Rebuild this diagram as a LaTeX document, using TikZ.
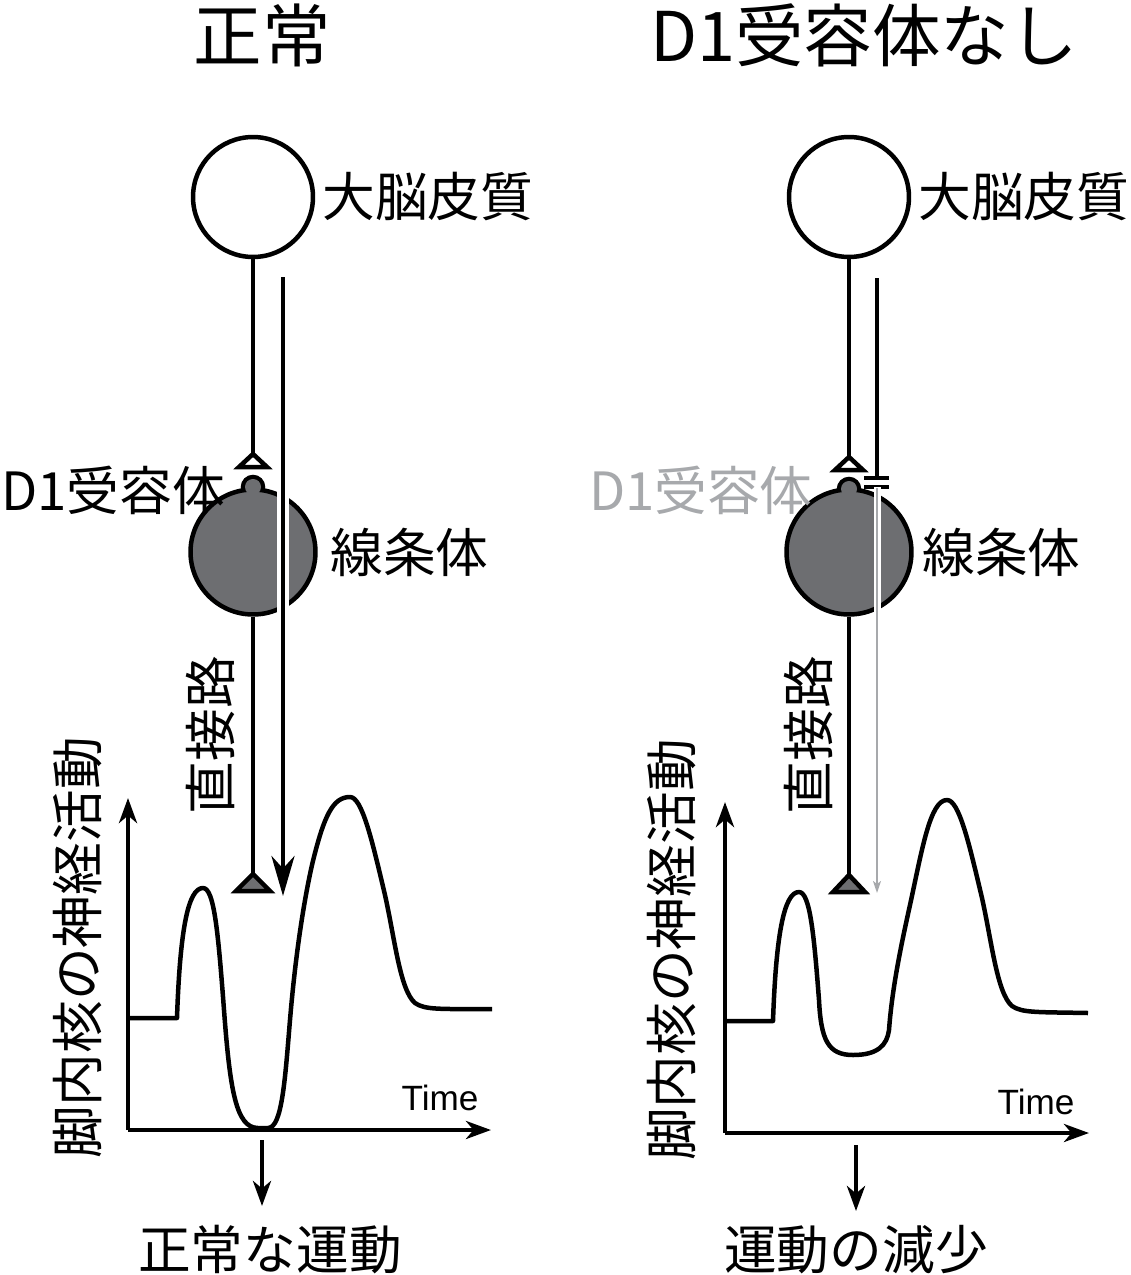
\documentclass[tikz,border=0pt]{standalone}
\usepackage{fontspec}
\setmainfont{Noto Sans CJK JP}
\newfontfamily\latinfont{Liberation Sans}
\usetikzlibrary{arrows.meta, positioning, calc}
\definecolor{stri}{HTML}{6D6E71}
\definecolor{faded}{HTML}{A7A9AC}

\begin{document}
\begin{tikzpicture}[
  x=0.02cm, y=-0.02cm,
  thickline/.style={line width=0.09cm},
  cortex/.style={draw, circle, thickline, fill=white, minimum size=2.4cm, inner sep=0pt},
  striatum/.style={draw, circle, thickline, fill=stri, minimum size=2.5cm, inner sep=0pt},
  label/.style={font=\fontsize{30}{36}\selectfont, inner sep=0pt},
  title/.style={font=\fontsize{39}{46}\selectfont, inner sep=0pt},
  timelabel/.style={font=\latinfont\fontsize{20}{24}\selectfont, inner sep=0pt},
  bigarrow/.style={thickline, -{Stealth[length=0.8cm, width=0.46cm, inset=0.25cm]}},
  axisarrow/.style={thickline, -{Stealth[length=0.5cm, width=0.36cm, inset=0.15cm]}},
  fadedarrow/.style={faded, line width=0.04cm, -{Stealth[length=0.24cm, width=0.16cm, inset=0.06cm]}},
  synapse/.style={thickline, line join=miter}
]
  \useasboundingbox (0,0) rectangle (1130,1275);

  % ===== Normal =====
  \node[title] (titleL) at (262,35) {正常};

  % Cortex
  \node[cortex] (ctxL) at (253,197) {};
  \node[label, anchor=west] (ctxLlab) at (322,197) {大脳皮質};
  \coordinate (synL) at (253,454);
  \draw[thickline] (ctxL.south) -- (synL);
  \draw[synapse, fill=white] (synL) -- ++(14,13) -- ++(-28,0) -- cycle;

  % Striatum with D1 spine
  \draw[thickline, fill=stri] (253,487) circle[radius=10];
  \node[striatum] (striL) at (253,552) {};
  \fill[stri] (253,487) circle[radius=8];
  \node[label, anchor=west] (d1L) at (1,490) {D1受容体};
  \node[label, anchor=west] (striLlab) at (330,552) {線条体};

  % Direct pathway
  \coordinate (tipL) at (253,874);
  \draw[thickline] (striL.south) -- (tipL);
  \draw[synapse, fill=stri] (tipL) -- ++(17,17) -- ++(-34,0) -- cycle;
  \node[label, rotate=90] (pathL) at (210,735) {直接路};

  % Cortical signal
  \coordinate (sigTopL) at (283,277);
  \coordinate (sigEndL) at (283,896);
  \draw[white, line width=0.24cm] (striL.north -| sigTopL) -- (striL.south -| sigTopL);
  \draw[bigarrow] (sigTopL) -- (sigEndL);

  % Activity plot
  \coordinate (originL) at (128,1130);
  \coordinate (yTopL) at (128,798);
  \coordinate (xEndL) at (491,1130);
  \draw[axisarrow] (originL) -- (yTopL);
  \draw[axisarrow] (originL) -- (xEndL);
  \node[label, rotate=90] (actL) at (78,948) {脚内核の神経活動};
  \node[timelabel] (timeL) at (440,1098) {Time};
  \draw[thickline, line join=round] (128,1018) -- (177,1018)
    .. controls (180,930) and (188,888) .. (203,888)
    .. controls (214,888) and (218,930) .. (224,1010)
    .. controls (230,1090) and (236,1128) .. (258,1128) -- (268,1128)
    .. controls (282,1128) and (285,1080) .. (290,1020)
    .. controls (295,960) and (303,905) .. (312,865)
    .. controls (324,815) and (333,797) .. (350,797)
    .. controls (362,797) and (372,840) .. (385,895)
    .. controls (395,940) and (400,990) .. (415,1003)
    .. controls (425,1010) and (440,1009) .. (492,1009);

  % Outcome
  \coordinate (outTopL) at (262,1140);
  \coordinate (outEndL) at (262,1206);
  \draw[axisarrow] (outTopL) -- (outEndL);
  \node[label] (resL) at (270,1250) {正常な運動};

  % ===== No D1 receptor =====
  \node[title] (titleR) at (864,35) {D1受容体なし};

  % Cortex
  \node[cortex] (ctxR) at (849,197) {};
  \node[label, anchor=west] (ctxRlab) at (918,197) {大脳皮質};
  \coordinate (synR) at (849,457);
  \draw[thickline] (ctxR.south) -- (synR);
  \draw[synapse, fill=white] (synR) -- ++(14,13) -- ++(-28,0) -- cycle;

  % Striatum with D1 spine
  \draw[thickline, fill=stri] (849,489) circle[radius=10];
  \node[striatum] (striR) at (849,552) {};
  \fill[stri] (849,489) circle[radius=8];
  \node[label, anchor=east, text=faded] (d1R) at (813,490) {D1受容体};
  \node[label, anchor=west] (striRlab) at (922,552) {線条体};

  % Direct pathway
  \coordinate (tipR) at (849,875);
  \draw[thickline] (striR.south) -- (tipR);
  \draw[synapse, fill=stri] (tipR) -- ++(16,17) -- ++(-32,0) -- cycle;
  \node[label, rotate=90] (pathR) at (808,735) {直接路};

  % Blocked cortical signal
  \coordinate (sigTopR) at (877,278);
  \coordinate (blockR) at (877,478);
  \coordinate (passR) at (877,488);
  \coordinate (sigEndR) at (877,893);
  \draw[thickline] (sigTopR) -- (blockR);
  \draw[line width=0.07cm] ($(blockR)+(-13,0)$) -- ($(blockR)+(12,0)$);
  \draw[line width=0.07cm] ($(passR)+(-13,-1)$) -- ($(passR)+(12,-1)$);
  \draw[white, line width=0.14cm] (striR.north -| sigTopR) -- (striR.south -| sigTopR);
  \draw[fadedarrow] (passR) -- (sigEndR);

  % Activity plot
  \coordinate (originR) at (725,1133);
  \coordinate (yTopR) at (725,802);
  \coordinate (xEndR) at (1089,1133);
  \draw[axisarrow] (originR) -- (yTopR);
  \draw[axisarrow] (originR) -- (xEndR);
  \node[label, rotate=90] (actR) at (672,950) {脚内核の神経活動};
  \node[timelabel] (timeR) at (1036,1102) {Time};
  \draw[thickline, line join=round] (725,1021) -- (773,1021)
    .. controls (776,935) and (784,892) .. (799,892)
    .. controls (810,892) and (814,935) .. (819,1000)
    .. controls (821,1040) and (828,1055) .. (853,1055)
    .. controls (878,1055) and (887,1045) .. (889,1030)
    .. controls (892,990) and (900,950) .. (910,905)
    .. controls (922,850) and (930,800) .. (947,800)
    .. controls (959,800) and (969,843) .. (982,898)
    .. controls (992,943) and (997,993) .. (1012,1006)
    .. controls (1022,1013) and (1037,1012) .. (1088,1013);

  % Outcome
  \coordinate (outTopR) at (856,1145);
  \coordinate (outEndR) at (856,1211);
  \draw[axisarrow] (outTopR) -- (outEndR);
  \node[label] (resR) at (856,1250) {運動の減少};
\end{tikzpicture}
\end{document}
